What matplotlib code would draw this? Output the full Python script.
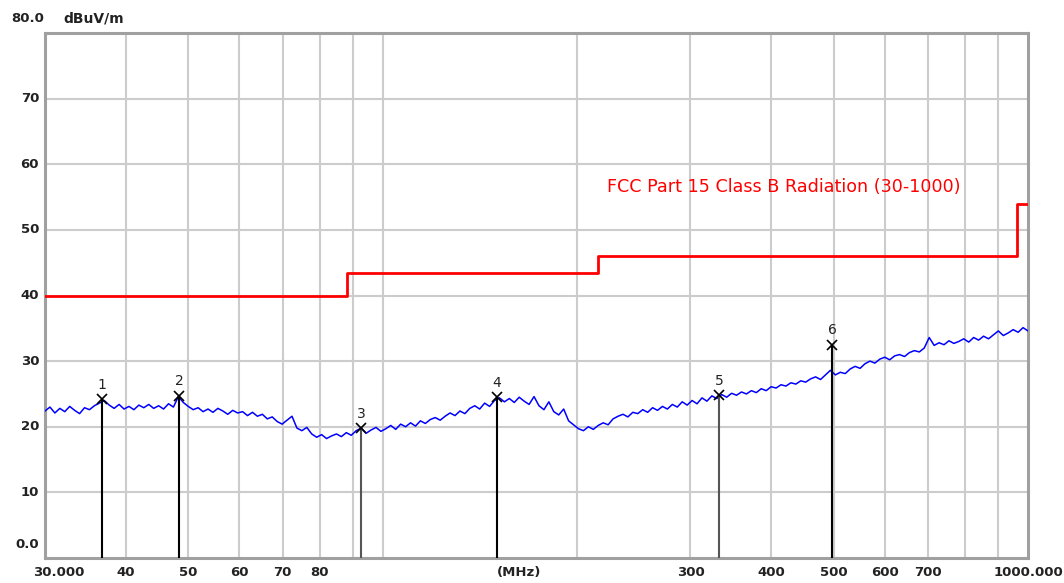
import numpy as np
import matplotlib
matplotlib.use("Agg")
import matplotlib.pyplot as plt
import matplotlib.transforms as mtransforms

level = [
    22.4, 23.0, 22.1, 22.8, 22.3, 23.1, 22.5, 22.0, 22.9, 22.6, 23.2, 23.6, 24.0, 23.3, 22.8, 23.4, 22.7, 23.1, 22.6, 23.3,
    22.9, 23.4, 22.8, 23.2, 22.7, 23.5, 23.0, 24.6, 23.7, 23.1, 22.6, 22.9, 22.3, 22.7, 22.2, 22.8, 22.4, 21.9, 22.5, 22.1,
    22.3, 21.7, 22.2, 21.6, 21.9, 21.2, 21.5, 20.8, 20.4, 21.0, 21.6, 19.8, 19.4, 19.9, 18.9, 18.4, 18.8, 18.2, 18.6, 18.9,
    18.5, 19.1, 18.7, 19.4, 19.8, 19.0, 19.5, 19.9, 19.3, 19.7, 20.2, 19.6, 20.4, 20.0, 20.6, 20.1, 20.9, 20.5, 21.1, 21.4,
    21.0, 21.6, 22.1, 21.7, 22.4, 22.0, 22.8, 23.2, 22.7, 23.6, 23.1, 24.0, 24.4, 23.8, 24.3, 23.7, 24.5, 23.9, 23.4, 24.6,
    23.2, 22.6, 23.8, 22.3, 21.8, 22.7, 20.9, 20.3, 19.7, 19.4, 20.0, 19.6, 20.2, 20.6, 20.3, 21.2, 21.6, 21.9, 21.5, 22.2,
    22.0, 22.6, 22.2, 22.9, 22.5, 23.1, 22.7, 23.4, 23.0, 23.8, 23.3, 24.0, 23.5, 24.4, 23.9, 24.7, 24.3, 24.9, 24.5, 25.1,
    24.8, 25.3, 25.0, 25.5, 25.2, 25.8, 25.5, 26.1, 25.9, 26.4, 26.2, 26.7, 26.5, 27.0, 26.8, 27.3, 27.6, 27.2, 27.9, 28.6,
    27.9, 28.3, 28.1, 28.8, 29.2, 28.9, 29.6, 30.0, 29.7, 30.3, 30.6, 30.2, 30.8, 31.0, 30.7, 31.3, 31.6, 31.4, 32.0, 33.6,
    32.4, 32.8, 32.5, 33.1, 32.7, 33.0, 33.4, 32.9, 33.6, 33.2, 33.8, 33.4, 34.0, 34.6, 33.9, 34.3, 34.8, 34.4, 35.1, 34.6,
]
freq = np.geomspace(30, 1000, len(level))

# FCC Part 15 class B limit
limit_freq = [30, 88, 216, 960, 1000]
limit_level = [40, 43.5, 46, 54, 54]

# peak markers
mk_freq = [36.7, 48.4, 92.6, 150.4, 332, 497]
mk_level = [24.2, 24.7, 19.8, 24.5, 24.8, 32.5]
mk_color = ['black', 'black', '#555555', 'black', '#555555', 'black']

xtick_vals = [31.5, 40, 50, 60, 70, 80, 163, 300, 400, 500, 600, 700, 1000]
xtick_txt = ['30.000', '40', '50', '60', '70', '80', '(MHz)', '300', '400', '500', '600', '700', '1000.000']
ytick_vals = [0, 10, 20, 30, 40, 50, 60, 70]
ytick_txt = ['0.0', '10', '20', '30', '40', '50', '60', '70']

fig = plt.figure(figsize=(10.64, 5.83), dpi=100)
ax = fig.add_axes([45/1064, 25/583, 983/1064, 525/583])
ax.set_xscale('log')
ax.set_xlim(30, 1000)
ax.set_ylim(0, 80)

grid_x = [40, 50, 60, 70, 80, 90, 100, 200, 300, 400, 500, 600, 700, 800, 900]
for g in grid_x:
    ax.axvline(g, color='#cccccc', lw=1.5, zorder=0)
for g in range(10, 80, 10):
    ax.axhline(g, color='#cccccc', lw=1.5, zorder=0)

ax.set_xticks([])
ax.set_xticks([], minor=True)
ax.set_yticks([])
for s in ax.spines.values():
    s.set_color('#a0a0a0')
    s.set_linewidth(2.2)

fnt = dict(fontsize=9.5, fontweight='bold', color='#222222')
trx = mtransforms.blended_transform_factory(ax.transData, ax.transAxes)
for v, t in zip(xtick_vals, xtick_txt):
    ax.text(v, -0.028, t, transform=trx, ha='center', va='center', **fnt)

try_ = mtransforms.blended_transform_factory(ax.transAxes, ax.transData)
for v, t in zip(ytick_vals, ytick_txt):
    yy = v + 2 if v == 0 else v
    ax.text(-0.006, yy, t, transform=try_, ha='right', va='center', **fnt)
ax.text(-0.001, 82.2, '80.0', transform=try_, ha='right', va='center', clip_on=False, **fnt)
ax.text(0.019, 82.2, 'dBuV/m', transform=try_, ha='left', va='center', clip_on=False,
        fontsize=10, fontweight='bold', color='#222222')

ax.step(limit_freq, limit_level, where='post', color='#ff0000', lw=2, zorder=3)
ax.text(0.572, 56.5, 'FCC Part 15 Class B Radiation (30-1000)', transform=try_,
        color='#ff0000', fontsize=12.6, ha='left', va='center')

ax.plot(freq, level, color='#0000ff', lw=1.1, zorder=4)

for i, (f, l) in enumerate(zip(mk_freq, mk_level)):
    ax.vlines(f, 0, l, color=mk_color[i], lw=1.5, zorder=5)
    ax.plot(f, l, marker='x', color='black', ms=7, mew=1.2, zorder=6)
    ax.text(f, l + 2.2, str(i + 1), ha='center', va='center', fontsize=10, color='#222222', zorder=6)

fig.savefig('out.png', dpi=100)
